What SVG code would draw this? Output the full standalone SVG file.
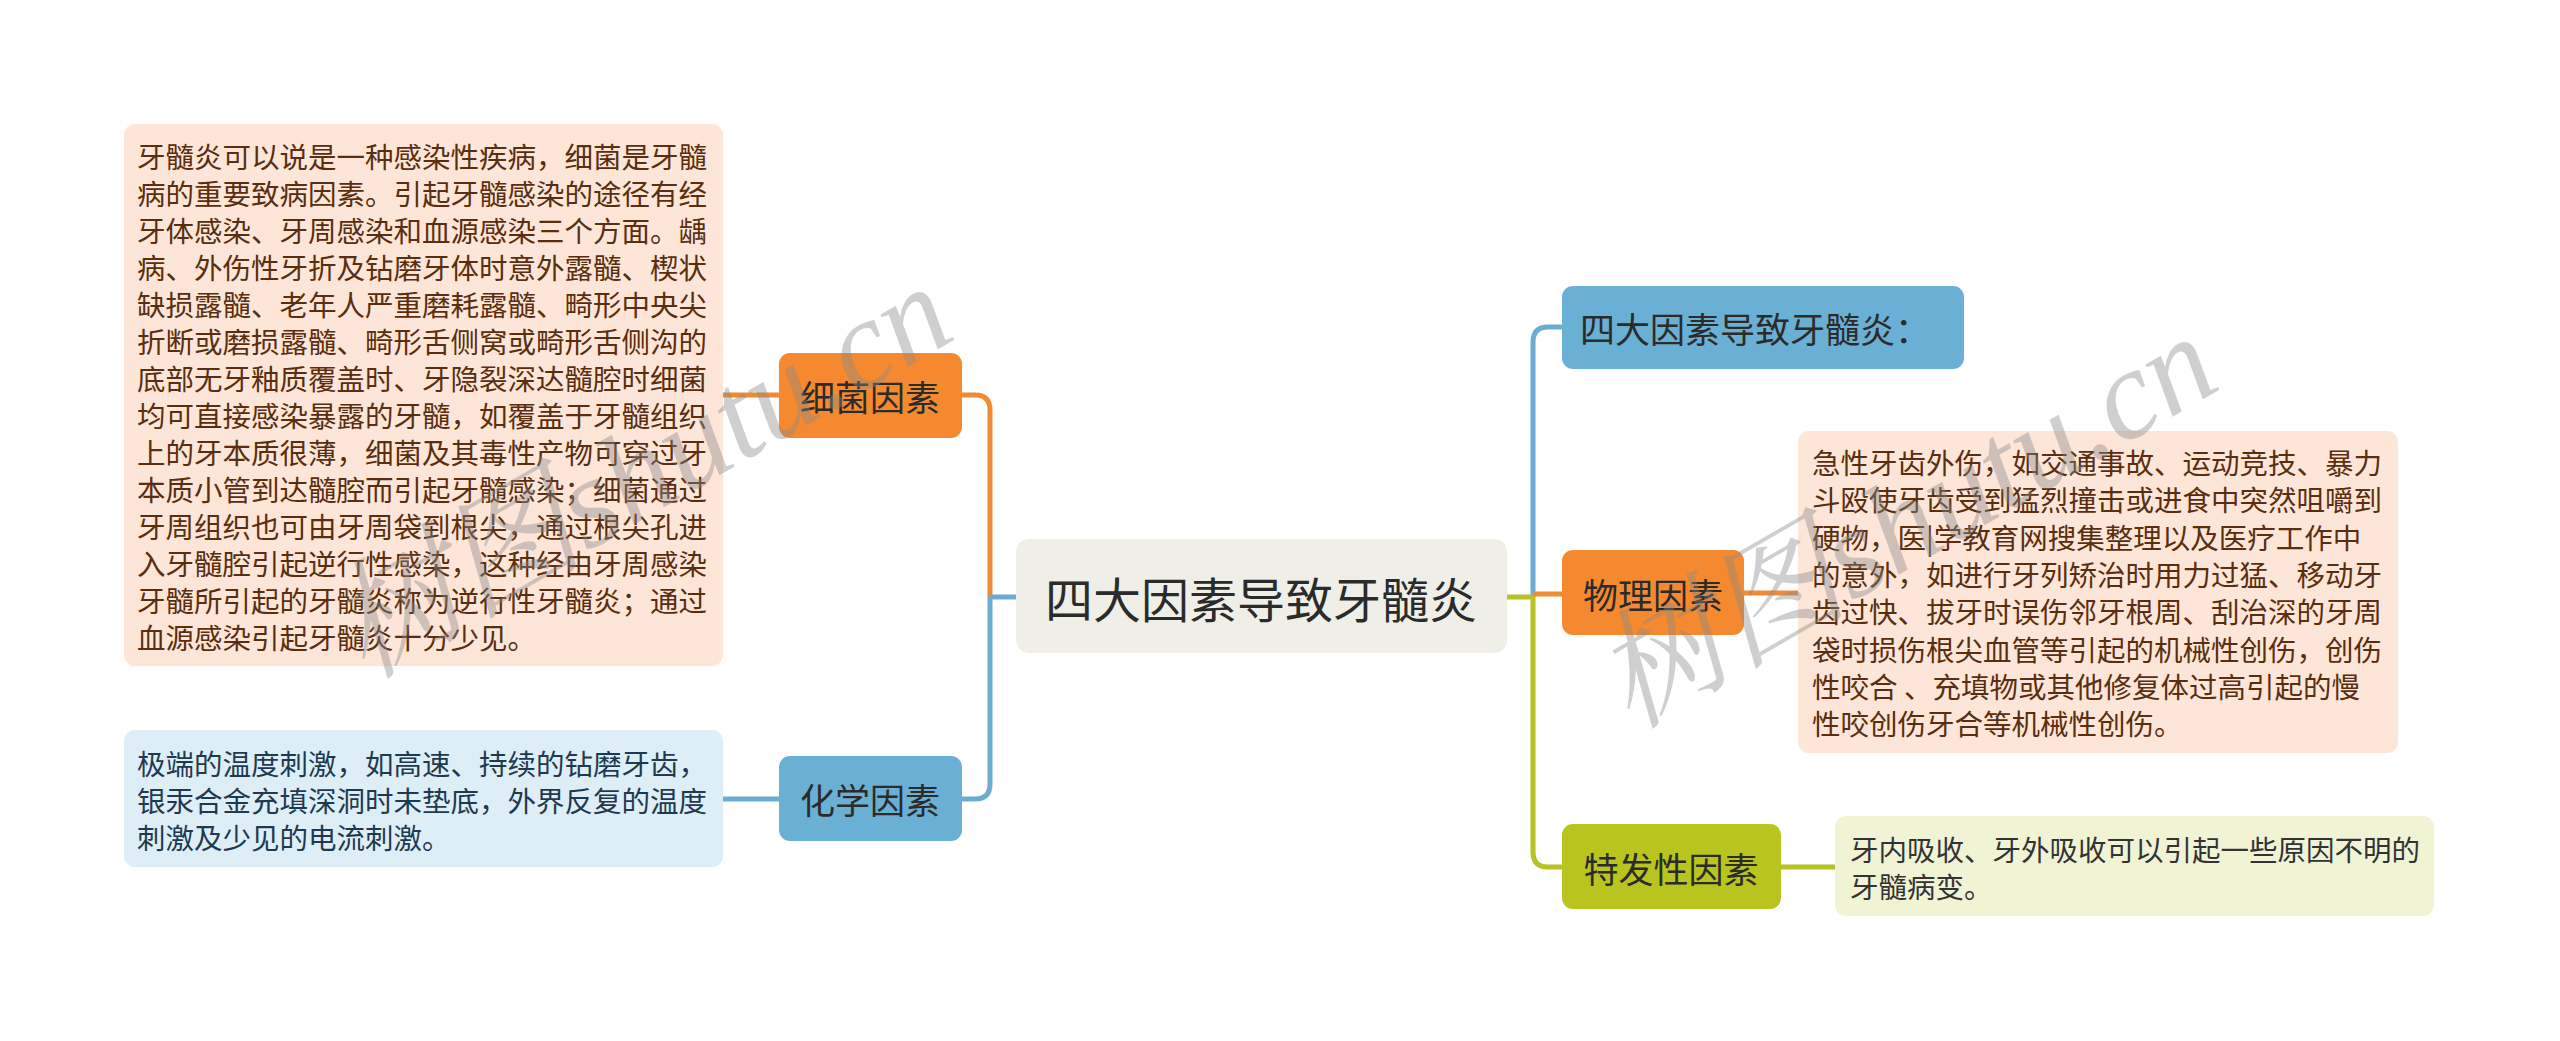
<svg xmlns="http://www.w3.org/2000/svg" width="2560" height="1041" viewBox="0 0 2560 1041">
<style>
.t{font-family:"Noto Sans CJK SC","Noto Sans",sans-serif;}
.desc{font-size:28.5px;}
.lbl{font-size:35px;fill:#2b2b2b;text-anchor:middle;dominant-baseline:central;}
.c{fill:none;stroke-width:5;stroke-linecap:butt;}
.or{stroke:#F08A33;}
.bl{stroke:#6AADD0;}
.gr{stroke:#B7C224;}
.wm{font-family:"Liberation Serif","Noto Serif CJK SC","Noto Sans CJK SC",serif;font-style:italic;font-size:128px;fill:#8a8a8a;opacity:0.4;}
</style>
<rect width="2560" height="1041" fill="#ffffff"/>
<g id="connectors">
  <path class="c or" d="M962,395 H975 Q990,395 990,410 V597"/>
  <path class="c bl" d="M990,597 H1016"/>
  <path class="c bl" d="M990,597 V784 Q990,799 975,799 H962"/>
  <path class="c or" d="M779,395 H723"/>
  <path class="c bl" d="M779,799 H723"/>
  <path class="c bl" d="M1533,597 V342 Q1533,327 1548,327 H1562"/>
  <path class="c gr" d="M1507,597 H1533 V852 Q1533,867 1548,867 H1562"/>
  <path class="c or" d="M1533,594 H1562"/>
  <path class="c or" d="M1744,593 H1798"/>
  <path class="c gr" d="M1781,867 H1835"/>
</g>
<g id="center">
  <rect x="1016" y="539" width="491" height="114" rx="13" fill="#EFEFE8"/>
  <text class="t" x="1261" y="597" font-size="48" fill="#2b2b2b" text-anchor="middle" dominant-baseline="central">四大因素导致牙髓炎</text>
</g>
<g id="n-xijun">
  <rect x="779" y="353" width="183" height="85" rx="11" fill="#F5892F"/>
  <text class="t lbl" x="870" y="395">细菌因素</text>
</g>
<g id="n-huaxue">
  <rect x="779" y="756" width="183" height="85" rx="11" fill="#6AAFD4"/>
  <text class="t lbl" x="870" y="798">化学因素</text>
</g>
<g id="n-sida">
  <rect x="1562" y="286" width="402" height="83" rx="11" fill="#6AAFD4"/>
  <text class="t lbl" x="1580" y="327" style="text-anchor:start">四大因素导致牙髓炎：</text>
</g>
<g id="n-wuli">
  <rect x="1562" y="550" width="182" height="85" rx="11" fill="#F5892F"/>
  <text class="t lbl" x="1653" y="593">物理因素</text>
</g>
<g id="n-tefa">
  <rect x="1562" y="824" width="219" height="85" rx="11" fill="#BAC41E"/>
  <text class="t lbl" x="1671" y="867">特发性因素</text>
</g>
<g id="d-xijun">
  <rect x="124" y="124" width="599" height="542" rx="11" fill="#FDE6D7"/>
  <text class="t desc" fill="#5A2E0E" dominant-baseline="central">
    <tspan x="137" y="154.5">牙髓炎可以说是一种感染性疾病，细菌是牙髓</tspan>
    <tspan x="137" y="191.5">病的重要致病因素。引起牙髓感染的途径有经</tspan>
    <tspan x="137" y="228.5">牙体感染、牙周感染和血源感染三个方面。龋</tspan>
    <tspan x="137" y="265.5">病、外伤性牙折及钻磨牙体时意外露髓、楔状</tspan>
    <tspan x="137" y="302.5">缺损露髓、老年人严重磨耗露髓、畸形中央尖</tspan>
    <tspan x="137" y="339.5">折断或磨损露髓、畸形舌侧窝或畸形舌侧沟的</tspan>
    <tspan x="137" y="376.5">底部无牙釉质覆盖时、牙隐裂深达髓腔时细菌</tspan>
    <tspan x="137" y="413.5">均可直接感染暴露的牙髓，如覆盖于牙髓组织</tspan>
    <tspan x="137" y="450.5">上的牙本质很薄，细菌及其毒性产物可穿过牙</tspan>
    <tspan x="137" y="487.5">本质小管到达髓腔而引起牙髓感染；细菌通过</tspan>
    <tspan x="137" y="524.5">牙周组织也可由牙周袋到根尖，通过根尖孔进</tspan>
    <tspan x="137" y="561.5">入牙髓腔引起逆行性感染，这种经由牙周感染</tspan>
    <tspan x="137" y="598.5">牙髓所引起的牙髓炎称为逆行性牙髓炎；通过</tspan>
    <tspan x="137" y="635.5">血源感染引起牙髓炎十分少见。</tspan>
  </text>
</g>
<g id="d-huaxue">
  <rect x="124" y="730" width="599" height="137" rx="11" fill="#DEEEF7"/>
  <text class="t desc" fill="#1E3A50" dominant-baseline="central">
    <tspan x="137" y="762">极端的温度刺激，如高速、持续的钻磨牙齿，</tspan>
    <tspan x="137" y="799">银汞合金充填深洞时未垫底，外界反复的温度</tspan>
    <tspan x="137" y="836">刺激及少见的电流刺激。</tspan>
  </text>
</g>
<g id="d-wuli">
  <rect x="1798" y="431" width="600" height="322" rx="11" fill="#FDE6D7"/>
  <text class="t desc" fill="#5A2E0E" dominant-baseline="central">
    <tspan x="1812" y="461">急性牙齿外伤，如交通事故、运动竞技、暴力</tspan>
    <tspan x="1812" y="498.3">斗殴使牙齿受到猛烈撞击或进食中突然咀嚼到</tspan>
    <tspan x="1812" y="535.6">硬物，医|学教育网搜集整理以及医疗工作中</tspan>
    <tspan x="1812" y="572.9">的意外，如进行牙列矫治时用力过猛、移动牙</tspan>
    <tspan x="1812" y="610.2">齿过快、拔牙时误伤邻牙根周、刮治深的牙周</tspan>
    <tspan x="1812" y="647.5">袋时损伤根尖血管等引起的机械性创伤，创伤</tspan>
    <tspan x="1812" y="684.8">性咬合 、充填物或其他修复体过高引起的慢</tspan>
    <tspan x="1812" y="722.1">性咬创伤牙合等机械性创伤。</tspan>
  </text>
</g>
<g id="d-tefa">
  <rect x="1835" y="816" width="599" height="100" rx="11" fill="#F1F3D5"/>
  <text class="t desc" fill="#333333" dominant-baseline="central">
    <tspan x="1850" y="848">牙内吸收、牙外吸收可以引起一些原因不明的</tspan>
    <tspan x="1850" y="885">牙髓病变。</tspan>
  </text>
</g>
<g id="watermarks">
  <text class="wm" x="365" y="680" transform="rotate(-30 365 680)">树图shutu.cn</text>
  <text class="wm" x="1630" y="730" transform="rotate(-30 1630 730)">树图shutu.cn</text>
</g>
</svg>
